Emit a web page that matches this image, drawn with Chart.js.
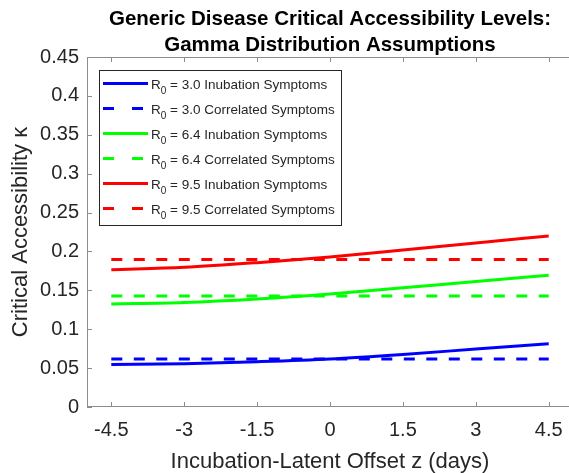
<!DOCTYPE html>
<html>
<head>
<meta charset="utf-8">
<script src="https://cdn.jsdelivr.net/npm/chart.js@4.4.0/dist/chart.umd.min.js"></script>
<style>
  html, body { margin: 0; padding: 0; background: #fff; overflow: hidden; }
  #wrap { width: 569px; height: 473px; overflow: hidden; position: relative; }
  #wrap canvas { position: absolute; left: 0; top: 0; }
</style>
</head>
<body>
<div id="wrap"><canvas id="chart" width="580" height="473" style="width:580px;height:473px"></canvas></div>
<script>
// data
const zValues = [-4.5, -3, -1.5, 0, 1.5, 3, 4.5];
const xTickLabels = ['-4.5', '-3', '-1.5', '0', '1.5', '3', '4.5'];
const yTickValues = [0, 0.05, 0.1, 0.15, 0.2, 0.25, 0.3, 0.35, 0.4, 0.45];
const yTickLabels = ['0', '0.05', '0.1', '0.15', '0.2', '0.25', '0.3', '0.35', '0.4', '0.45'];

const r0Values = ['3.0', '6.4', '9.5'];
const seriesColors = ['#0000ff', '#00ff00', '#ff0000'];

const incubation30 = [0.0547, 0.0556, 0.0582, 0.0618, 0.0676, 0.0745, 0.0814];
const correlated30 = [0.0616, 0.0616, 0.0616, 0.0616, 0.0616, 0.0616, 0.0616];
const incubation64 = [0.1324, 0.1343, 0.1388, 0.1452, 0.1532, 0.1613, 0.1693];
const correlated64 = [0.1427, 0.1427, 0.1427, 0.1427, 0.1427, 0.1427, 0.1427];
const incubation95 = [0.1766, 0.1796, 0.1856, 0.193, 0.2018, 0.2108, 0.2200];
const correlated95 = [0.1895, 0.1895, 0.1895, 0.1895, 0.1895, 0.1895, 0.1895];

const titleLines = ['Generic Disease Critical Accessibility Levels:', 'Gamma Distribution Assumptions'];

const FONT = "'Liberation Sans', Arial, Helvetica, sans-serif";
const TEXT = '#262626';
const AXIS = '#8c8c8c';

function toPoints(values) {
    return zValues.map((z, i) => ({ x: z, y: values[i] }));
}

function makeSet(r0Index, kind, values) {
    const dashed = kind === 'Correlated';
    return {
        label: `R0 = ${r0Values[r0Index]} ${kind === 'Correlated' ? 'Correlated' : 'Inubation'} Symptoms`,
        r0: r0Values[r0Index],
        kindText: kind === 'Correlated' ? 'Correlated Symptoms' : 'Inubation Symptoms',
        data: toPoints(values),
        borderColor: seriesColors[r0Index],
        backgroundColor: seriesColors[r0Index],
        borderWidth: 3,
        borderDash: dashed ? [11, 11.5] : [],
        pointRadius: 0,
        tension: 0.4,
        cubicInterpolationMode: 'monotone',
        fill: false
    };
}

const datasets = [
    makeSet(0, 'Inubation', incubation30),
    makeSet(0, 'Correlated', correlated30),
    makeSet(1, 'Inubation', incubation64),
    makeSet(1, 'Correlated', correlated64),
    makeSet(2, 'Inubation', incubation95),
    makeSet(2, 'Correlated', correlated95)
];

// box, inward ticks, title and the legend, matlab style
const matlabAxes = {
    id: 'matlabAxes',
    afterDraw(chart) {
        const ctx = chart.ctx;
        const area = chart.chartArea;
        const xs = chart.scales.x;
        const ys = chart.scales.y;
        ctx.save();

        // axes box
        ctx.strokeStyle = AXIS;
        ctx.lineWidth = 1;
        ctx.setLineDash([]);
        ctx.beginPath();
        ctx.moveTo(area.left + 0.5, area.top + 0.5);
        ctx.lineTo(area.right, area.top + 0.5);
        ctx.moveTo(area.left + 0.5, area.top);
        ctx.lineTo(area.left + 0.5, area.bottom);
        ctx.moveTo(area.left, area.bottom - 0.5);
        ctx.lineTo(area.right, area.bottom - 0.5);
        ctx.stroke();

        // inward ticks
        ctx.beginPath();
        xs.ticks.forEach(t => {
            const px = Math.round(xs.getPixelForValue(t.value)) + 0.5;
            ctx.moveTo(px, area.bottom);
            ctx.lineTo(px, area.bottom - 5);
            ctx.moveTo(px, area.top);
            ctx.lineTo(px, area.top + 5);
        });
        ys.ticks.forEach(t => {
            const py = Math.round(ys.getPixelForValue(t.value)) + 0.5;
            ctx.moveTo(area.left, py);
            ctx.lineTo(area.left + 5, py);
        });
        ctx.stroke();

        // title
        const cx = (area.left + area.right) / 2;
        ctx.fillStyle = '#000';
        ctx.font = `bold 20.5px ${FONT}`;
        ctx.textAlign = 'center';
        ctx.textBaseline = 'alphabetic';
        ctx.fillText(titleLines[0], cx, 25);
        ctx.fillText(titleLines[1], cx, 50.5);

        // legend
        const boxL = area.left + 12, boxT = area.top + 13, boxW = 242, boxH = 155;
        ctx.fillStyle = '#fff';
        ctx.fillRect(boxL, boxT, boxW, boxH);
        ctx.strokeStyle = TEXT;
        ctx.lineWidth = 1;
        ctx.strokeRect(boxL + 0.5, boxT + 0.5, boxW, boxH);

        chart.data.datasets.forEach((ds, i) => {
            const cy = boxT + 13.5 + i * 25;
            ctx.strokeStyle = ds.borderColor;
            ctx.lineWidth = 3;
            ctx.setLineDash(ds.borderDash.length ? [11, 18] : []);
            ctx.beginPath();
            ctx.moveTo(boxL + 4, cy);
            ctx.lineTo(boxL + 49, cy);
            ctx.stroke();
            ctx.setLineDash([]);

            ctx.fillStyle = TEXT;
            ctx.textAlign = 'left';
            ctx.textBaseline = 'alphabetic';
            let tx = boxL + 52;
            ctx.font = `13.5px ${FONT}`;
            ctx.fillText('R', tx, cy + 5);
            tx += ctx.measureText('R').width;
            ctx.font = `10px ${FONT}`;
            ctx.fillText('0', tx, cy + 10);
            tx += ctx.measureText('0').width;
            ctx.font = `13.5px ${FONT}`;
            ctx.fillText(` = ${ds.r0} ${ds.kindText}`, tx, cy + 5);
        });

        ctx.restore();
    }
};

new Chart(document.getElementById('chart').getContext('2d'), {
    type: 'line',
    data: { datasets },
    options: {
        responsive: false,
        animation: false,
        layout: { padding: { left: 0, top: 57, right: 7, bottom: 0 } },
        plugins: {
            legend: { display: false },
            title: { display: false },
            tooltip: { enabled: false }
        },
        scales: {
            x: {
                type: 'linear',
                min: -5,
                max: 5,
                afterBuildTicks: scale => {
                    scale.ticks = zValues.map(v => ({ value: v }));
                },
                afterFit: scale => { scale.height = 66; },
                grid: { display: false, drawTicks: false },
                border: { display: false },
                ticks: {
                    color: TEXT,
                    font: { family: FONT, size: 20 },
                    padding: 11,
                    maxRotation: 0,
                    autoSkip: false,
                    callback: (value, index) => xTickLabels[index]
                },
                title: {
                    display: true,
                    text: 'Incubation-Latent Offset z (days)',
                    color: TEXT,
                    font: { family: FONT, size: 22, lineHeight: 1 },
                    padding: { top: 0, bottom: 0 }
                }
            },
            y: {
                type: 'linear',
                min: 0,
                max: 0.45,
                afterBuildTicks: scale => {
                    scale.ticks = yTickValues.map(v => ({ value: v }));
                },
                afterFit: scale => { scale.width = 87; },
                grid: { display: false, drawTicks: false },
                border: { display: false },
                ticks: {
                    color: TEXT,
                    font: { family: FONT, size: 20 },
                    padding: 8,
                    autoSkip: false,
                    callback: (value, index) => yTickLabels[index]
                },
                title: {
                    display: true,
                    text: 'Critical Accessibility κ',
                    color: TEXT,
                    font: { family: FONT, size: 22, lineHeight: 1 },
                    padding: { top: 10, bottom: 0 }
                }
            }
        }
    },
    plugins: [matlabAxes]
});
</script>
</body>
</html>
